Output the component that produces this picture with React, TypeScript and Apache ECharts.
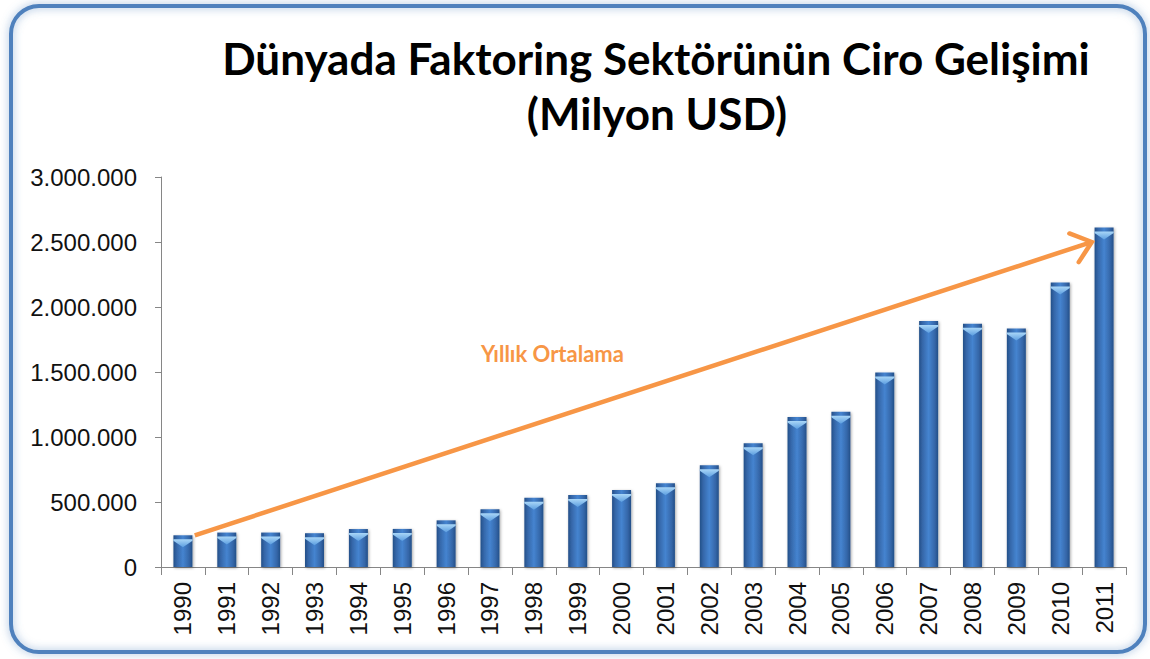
import React, { useEffect, useRef } from "react";
import * as echarts from "echarts";

const years = ["1990","1991","1992","1993","1994","1995","1996","1997","1998","1999","2000","2001","2002","2003","2004","2005","2006","2007","2008","2009","2010","2011"];
const turnover = [244000, 265000, 265000, 260000, 292000, 293000, 359000, 444000, 533000, 554000, 592000, 644000, 782000, 952000, 1154000, 1195000, 1497000, 1892000, 1872000, 1834000, 2188000, 2611000];
const yMin = 0;
const yMax = 3000000;
const yStep = 500000;
const titleLine1 = "Dünyada Faktoring Sektörünün Ciro Gelişimi";
const titleLine2 = "(Milyon USD)";
const arrowLabel = "Yıllık Ortalama";
const arrowFrom = [0, 244000];
const arrowTo = [21, 2500000];

const fmt = (v: number) => String(v).replace(/\B(?=(\d{3})+(?!\d))/g, ".");

export default function App() {
  const ref = useRef<HTMLDivElement>(null);
  useEffect(() => {
    document.body.style.margin = "0";
    const chart = echarts.init(ref.current!, null, { renderer: "svg" });
    const orange = "#f79646";
    chart.setOption({
      animation: false,
      backgroundColor: "#ffffff",
      grid: { left: 161, right: 24, top: 177, bottom: 92, containLabel: false },
      xAxis: {
        type: "category",
        data: years,
        boundaryGap: true,
        axisLine: { show: true, lineStyle: { color: "#868686", width: 1 } },
        axisTick: { show: true, length: 8, lineStyle: { color: "#868686" } },
        axisLabel: {
          rotate: 90,
          margin: 15,
          fontSize: 24,
          fontFamily: "Liberation Sans",
          color: "#111",
          interval: 0,
        },
        splitLine: { show: false },
      },
      yAxis: {
        type: "value",
        min: yMin,
        max: yMax,
        interval: yStep,
        axisLine: { show: true, lineStyle: { color: "#868686", width: 1 } },
        axisTick: { show: true, length: 6, lineStyle: { color: "#868686" } },
        axisLabel: {
          margin: 24,
          fontSize: 24,
          fontFamily: "Liberation Sans",
          color: "#111",
          formatter: (v: number) => fmt(v),
        },
        splitLine: { show: false },
      },
      series: [
        {
          type: "bar",
          data: turnover,
          barWidth: 19,
          barGap: "-100%",
          itemStyle: {
            color: new echarts.graphic.LinearGradient(0, 0, 1, 0, [
              { offset: 0, color: "#234f88" },
              { offset: 0.18, color: "#3567a9" },
              { offset: 0.5, color: "#4584d0" },
              { offset: 0.82, color: "#3567a9" },
              { offset: 1, color: "#234f88" },
            ]),
            shadowBlur: 3,
            shadowColor: "rgba(0,0,0,0.35)",
            shadowOffsetX: 1,
            shadowOffsetY: 1,
          },
          z: 2,
        },
        {
          type: "pictorialBar",
          data: turnover,
          barWidth: 19,
          barGap: "-100%",
          symbol: "path://M0,0 L20,0 L20,1.5 L10,8 L0,1.5 Z",
          symbolSize: [19, 8],
          symbolPosition: "end",
          symbolOffset: [0, "50%"],
          itemStyle: {
            color: new echarts.graphic.LinearGradient(0, 0, 0, 1, [
              { offset: 0, color: "#a9d6f7" },
              { offset: 1, color: "#5c9ee0" },
            ]),
          },
          z: 3,
          silent: true,
        },
        {
          type: "custom",
          data: [[0, 0]],
          clip: false,
          silent: true,
          z: 5,
          renderItem: (params: any, api: any) => {
            const bw = api.size([1, 0])[0];
            const p0 = api.coord(arrowFrom);
            const p1 = api.coord(arrowTo);
            const x0 = p0[0] + 0.27 * bw;
            const y0 = p0[1];
            const x1 = p1[0] - 0.28 * bw;
            const y1 = p1[1];
            const ang = Math.atan2(y1 - y0, x1 - x0);
            const len = 24;
            const spread = 0.68;
            const a = [x1 - len * Math.cos(ang - spread), y1 - len * Math.sin(ang - spread)];
            const b = [x1 - len * Math.cos(ang + spread), y1 - len * Math.sin(ang + spread)];
            return {
              type: "group",
              children: [
                {
                  type: "line",
                  shape: { x1: x0, y1: y0, x2: x1 - 2 * Math.cos(ang), y2: y1 - 2 * Math.sin(ang) },
                  style: { stroke: orange, lineWidth: 4.5, lineCap: "butt" },
                },
                {
                  type: "polyline",
                  shape: { points: [a, [x1, y1], b] },
                  style: { stroke: orange, lineWidth: 4.5, fill: null, lineCap: "round", lineJoin: "miter" },
                },
              ],
            };
          },
        },
      ],
      graphic: [
        {
          type: "rect",
          shape: { x: 11, y: 6, width: 1134, height: 646, r: 28 },
          style: {
            fill: null,
            stroke: "#4f81bd",
            lineWidth: 4,
            shadowBlur: 8,
            shadowColor: "rgba(79,129,189,0.6)",
          },
          silent: true,
          z: 0,
        },
        {
          type: "text",
          x: 656,
          y: 58,
          style: {
            text: titleLine1,
            textAlign: "center",
            textVerticalAlign: "middle",
            font: "bold 44px Lato",
            fill: "#000",
          },
        },
        {
          type: "text",
          x: 657,
          y: 113,
          style: {
            text: titleLine2,
            textAlign: "center",
            textVerticalAlign: "middle",
            font: "bold 44px Lato",
            fill: "#000",
          },
        },
        {
          type: "text",
          x: 481,
          y: 353,
          style: {
            text: arrowLabel,
            textAlign: "left",
            textVerticalAlign: "middle",
            font: "bold 22px Lato",
            fill: orange,
          },
        },
      ],
    });
    return () => chart.dispose();
  }, []);
  return <div ref={ref} style={{ width: 1150, height: 659 }} />;
}
